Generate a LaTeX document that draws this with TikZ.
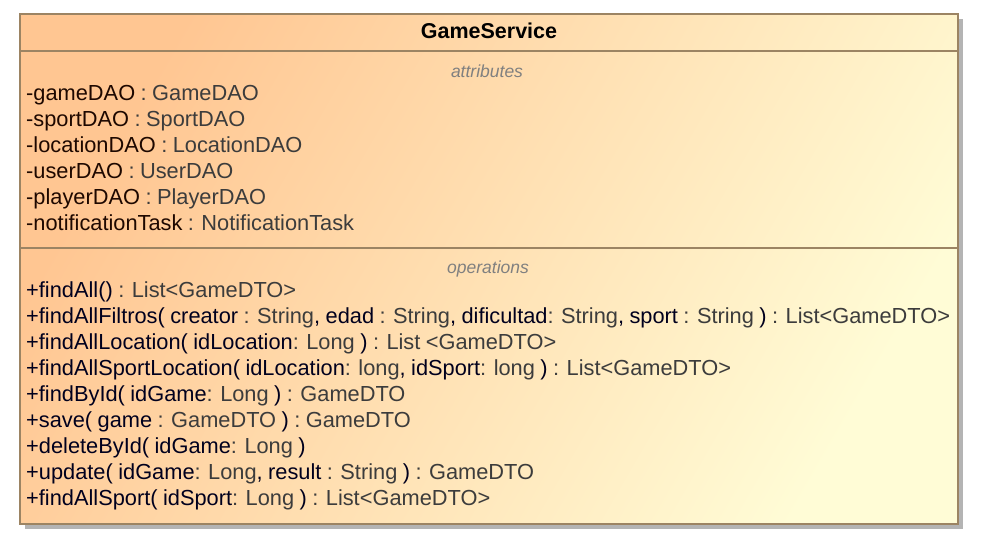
\documentclass[tikz,border=0pt]{standalone}
\usepackage{fontspec}
\setmainfont{Liberation Sans}
\usetikzlibrary{positioning}
\definecolor{boxorange}{RGB}{255,198,146}
\definecolor{boxyellow}{RGB}{255,252,214}
\definecolor{boxline}{RGB}{156,132,99}
\definecolor{shadowgrey}{RGB}{180,180,180}
\definecolor{attrname}{RGB}{30,8,0}
\definecolor{opname}{RGB}{0,0,30}
\definecolor{typegrey}{RGB}{60,60,60}
\definecolor{labelgrey}{RGB}{128,128,128}
\newcommand{\memberfont}{\fontsize{21.8}{26}\selectfont\spaceskip=0.25em\relax}
\tikzstyle{member}    = [anchor=base west, inner sep=0pt, font=\memberfont]
\tikzstyle{section}   = [inner sep=0pt, text=labelgrey, font=\fontsize{17.5}{20}\selectfont\itshape]
\tikzstyle{divider}   = [draw=boxline, line width=1.5pt]
\newcommand{\an}[1]{\textcolor{attrname}{#1}}
\newcommand{\on}[1]{\textcolor{opname}{#1}}
\newcommand{\ty}[1]{\textcolor{typegrey}{#1}}

\begin{document}
\begin{tikzpicture}[x=1pt,y=1pt]
        \useasboundingbox (0,0) rectangle (989,545);
        \fill[shadowgrey] (25,16) rectangle (963,526);
        \shade[top color=boxorange, bottom color=boxyellow, shading angle=60] (20,21) rectangle (958,531);
        \draw[divider] (20,21) rectangle (958,531);
        \draw[divider] (20,494) -- (958,494);
        \draw[divider] (20,297) -- (958,297);

        \node[font=\fontsize{21.5}{24}\selectfont\bfseries, inner sep=0pt] (title) at (489,514) {GameService};

        % attributes
        \node[section] (attrlabel) at (487,474) {attributes};
        \node[member] (a1) at (26,444) {\an{-gameDAO} \ty{: GameDAO}};
        \node[member] (a2) at (26,418) {\an{-sportDAO} \ty{: SportDAO}};
        \node[member] (a3) at (26,392) {\an{-locationDAO} \ty{: LocationDAO}};
        \node[member] (a4) at (26,366) {\an{-userDAO} \ty{: UserDAO}};
        \node[member] (a5) at (26,340) {\an{-playerDAO} \ty{: PlayerDAO}};
        \node[member] (a6) at (26,314) {\an{-notificationTask} \ty{: NotificationTask}};

        % operations
        \node[section] (oplabel) at (488,276) {operations};
        \node[member] (o1) at (26,247) {\on{+findAll()} \ty{: List<GameDTO>}};
        \node[member] (o2) at (26,221) {\on{+findAllFiltros( creator} \ty{: String}\on{, edad} \ty{: String}\on{, dificultad}\ty{: String}\on{, sport} \ty{: String} \on{)} \ty{: List<GameDTO>}};
        \node[member] (o3) at (26,195) {\on{+findAllLocation( idLocation}\ty{: Long} \on{)} \ty{: List <GameDTO>}};
        \node[member] (o4) at (26,169) {\on{+findAllSportLocation( idLocation}\ty{: long}\on{, idSport}\ty{: long} \on{)} \ty{: List<GameDTO>}};
        \node[member] (o5) at (26,143) {\on{+findById( idGame}\ty{: Long} \on{)} \ty{: GameDTO}};
        \node[member] (o6) at (26,117) {\on{+save( game} \ty{: GameDTO} \on{)} \ty{: GameDTO}};
        \node[member] (o7) at (26,91) {\on{+deleteById( idGame}\ty{: Long} \on{)}};
        \node[member] (o8) at (26,65) {\on{+update( idGame}\ty{: Long}\on{, result} \ty{: String} \on{)} \ty{: GameDTO}};
        \node[member] (o9) at (26,39) {\on{+findAllSport( idSport}\ty{: Long} \on{)} \ty{: List<GameDTO>}};
    \end{tikzpicture}
\end{document}
